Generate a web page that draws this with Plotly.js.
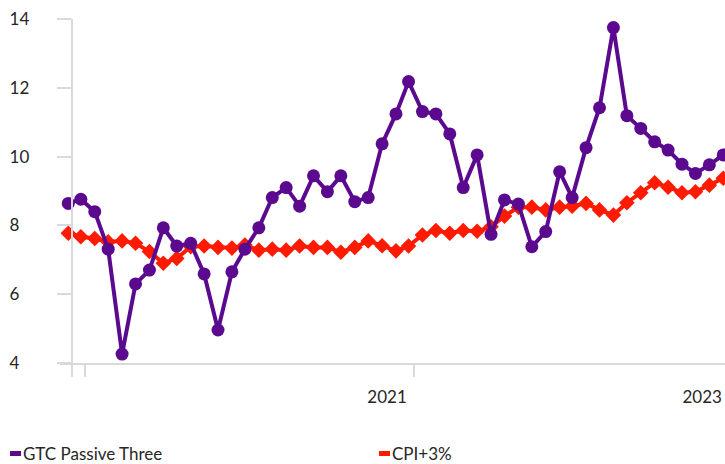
<!DOCTYPE html>
<html><head><meta charset="utf-8">
<script src="https://cdn.plot.ly/plotly-3.0.1.min.js"></script>
<style>html,body{margin:0;padding:0;background:#fff}#chart{width:725px;height:464px}</style>
</head><body><div id="chart"></div>
<script>
const months = [
 '2019-02-01','2019-03-01','2019-04-01','2019-05-01','2019-06-01','2019-07-01','2019-08-01','2019-09-01','2019-10-01','2019-11-01','2019-12-01',
 '2020-01-01','2020-02-01','2020-03-01','2020-04-01','2020-05-01','2020-06-01','2020-07-01','2020-08-01','2020-09-01','2020-10-01','2020-11-01','2020-12-01',
 '2021-01-01','2021-02-01','2021-03-01','2021-04-01','2021-05-01','2021-06-01','2021-07-01','2021-08-01','2021-09-01','2021-10-01','2021-11-01','2021-12-01',
 '2022-01-01','2022-02-01','2022-03-01','2022-04-01','2022-05-01','2022-06-01','2022-07-01','2022-08-01','2022-09-01','2022-10-01','2022-11-01','2022-12-01',
 '2023-01-01','2023-02-01'];
const gtcPassiveThree = [8.64,8.76,8.40,7.31,4.26,6.30,6.70,7.93,7.40,7.48,6.59,4.96,6.65,7.31,7.93,8.81,9.10,8.56,9.44,8.98,9.44,8.69,8.81,10.37,11.24,12.18,11.31,11.24,10.66,9.10,10.05,7.74,8.74,8.62,7.38,7.82,9.56,8.81,10.26,11.42,13.75,11.19,10.82,10.43,10.19,9.78,9.51,9.76,10.05];
const cpiPlus3 = [7.77,7.67,7.62,7.52,7.55,7.48,7.24,6.90,7.04,7.38,7.40,7.36,7.34,7.43,7.28,7.31,7.28,7.40,7.36,7.36,7.22,7.36,7.55,7.41,7.26,7.40,7.72,7.85,7.77,7.85,7.83,7.96,8.27,8.53,8.53,8.45,8.53,8.56,8.64,8.45,8.30,8.66,8.95,9.24,9.11,8.95,8.98,9.17,9.37];
const seriesNames = ['GTC Passive Three','CPI+3%'];
const yTickValues = [4,6,8,10,12,14];
const yTickLabels = ['4\u2007','6\u2007','8\u2007','10','12','14'];
const xTickLabels = ['2021','2023'];
const xLabelDates = ['2021-01-12','2022-12-16'];
const xTickDates = ['2019-02-09 06:00','2019-03-10 06:00','2021-03-13'];
const xRange = ['2019-01-13 12:00','2023-02-04 22:00'];

const purple = '#5b0a8f';
const red = '#ff1a00';
const grey = '#d9d9d9';
const txt = '#262626';

const traces = [
 {x: months, y: cpiPlus3, name: seriesNames[1], type: 'scatter', mode: 'lines+markers',
  line: {color: red, width: 4}, marker: {symbol: 'diamond', size: 12, color: red}, showlegend: false},
 {x: months, y: gtcPassiveThree, name: seriesNames[0], type: 'scatter', mode: 'lines+markers',
  line: {color: purple, width: 4}, marker: {symbol: 'circle', size: 13, color: purple}, showlegend: false}
];

const W = 725, H = 464, L = 60, R = 0, T = 19, B = 101;
const pw = W - L - R, ph = H - T - B;
const px = v => (v - L) / pw;
const py = v => (H - B - v) / ph;

const layout = {
 width: W, height: H,
 margin: {l: L, r: R, t: T, b: B, pad: 0},
 paper_bgcolor: '#fff', plot_bgcolor: '#fff',
 font: {family: 'Lato, "Open Sans", sans-serif', size: 17, color: txt},
 showlegend: false,
 xaxis: {type: 'date', range: xRange, showgrid: false, zeroline: false,
  showline: true, linecolor: grey, linewidth: 2,
  ticks: '', tickmode: 'array', tickvals: xLabelDates, ticktext: xTickLabels, ticklabelstandoff: 18,
  ticklabeloverflow: 'allow', tickfont: {size: 17, color: txt},
  minor: {ticks: 'outside', ticklen: 12, tickwidth: 2, tickcolor: grey, tickmode: 'array', tickvals: xTickDates, showgrid: false}},
 yaxis: {range: [4, 14], showgrid: false, zeroline: false, anchor: 'free', position: px(71.7),
  showline: true, linecolor: grey, linewidth: 2,
  ticks: 'outside', ticklen: 14, tickwidth: 2, tickcolor: grey,
  tickmode: 'array', tickvals: yTickValues, ticktext: yTickLabels, ticklabelstandoff: 24,
  tickfont: {size: 17, color: txt}},
 shapes: [
  {type: 'rect', xref: 'paper', yref: 'paper', x0: px(10), x1: px(21), y0: py(456), y1: py(451), fillcolor: purple, line: {width: 0}},
  {type: 'rect', xref: 'paper', yref: 'paper', x0: px(379), x1: px(390), y0: py(456), y1: py(451), fillcolor: red, line: {width: 0}}
 ],
 annotations: [
  {xref: 'paper', yref: 'paper', x: px(21), y: py(453), xanchor: 'left', yanchor: 'middle', showarrow: false, text: seriesNames[0], font: {size: 17, color: txt}},
  {xref: 'paper', yref: 'paper', x: px(390), y: py(453), xanchor: 'left', yanchor: 'middle', showarrow: false, text: seriesNames[1], font: {size: 17, color: txt}}
 ]
};

Plotly.newPlot('chart', traces, layout, {displayModeBar: false, staticPlot: true});
</script>
</body></html>
